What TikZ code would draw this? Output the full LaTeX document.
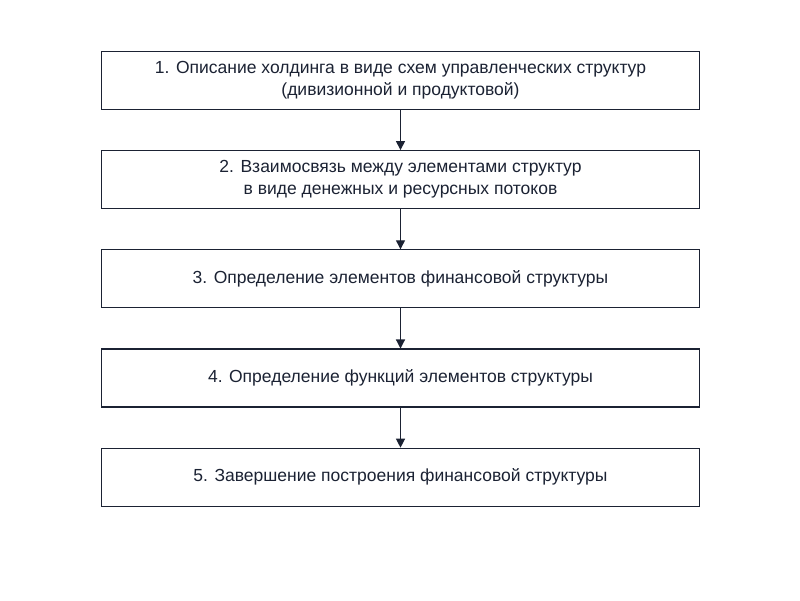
\documentclass[tikz,border=0pt]{standalone}
\usepackage{fontspec}
\setmainfont{Liberation Sans}
\usetikzlibrary{positioning,arrows.meta}
\definecolor{ink}{HTML}{1B2233}
\begin{document}
\begin{tikzpicture}[x=1pt,y=1pt]
    \tikzstyle{stage}=[draw=ink, line width=1.2pt, minimum width=598pt, minimum height=58pt, align=center, font=\fontsize{17.5pt}{22pt}\selectfont, text=ink, inner sep=2pt]
    \tikzstyle{flow}=[draw=ink, line width=1.2pt, -{Triangle[length=9pt,width=9pt]}]
    \useasboundingbox (0,0) rectangle (800,600);

    % stages
    \node[stage] (s1) at (400.5,519.5) {1. Описание холдинга в виде схем управленческих структур\\(дивизионной и продуктовой)};
    \node[stage, below=40pt of s1] (s2) {2. Взаимосвязь между элементами структур\\в виде денежных и ресурсных потоков};
    \node[stage, below=40pt of s2] (s3) {3. Определение элементов финансовой структуры};
    \node[stage, below=40pt of s3] (s4) {4. Определение функций элементов структуры};
    \node[stage, below=40pt of s4] (s5) {5. Завершение построения финансовой структуры};

    % arrows
    \draw[flow] (s1) -- (s2);
    \draw[flow] (s2) -- (s3);
    \draw[flow] (s3) -- (s4);
    \draw[flow] (s4) -- (s5);
\end{tikzpicture}
\end{document}
